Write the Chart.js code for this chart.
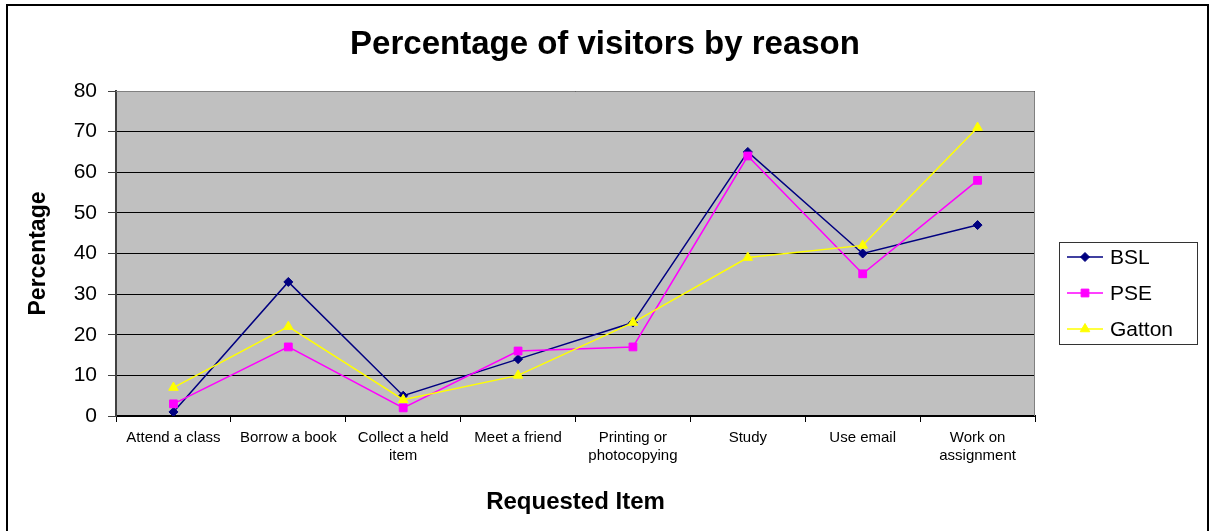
<!DOCTYPE html>
<html>
<head>
<meta charset="utf-8">
<title>Percentage of visitors by reason</title>
<script src="https://cdn.jsdelivr.net/npm/chart.js@4/dist/chart.umd.min.js"></script>
<style>
  html, body { margin: 0; padding: 0; background: #fff; }
  canvas { display: block; }
</style>
</head>
<body>
<canvas id="chart" width="1210" height="531"></canvas>
<script>
// Survey results: share of visitors (%) giving each reason, per campus library
const categories = [
  ["Attend a class"],
  ["Borrow a book"],
  ["Collect a held", "item"],
  ["Meet a friend"],
  ["Printing or", "photocopying"],
  ["Study"],
  ["Use email"],
  ["Work on", "assignment"]
];
const seriesNames = ["BSL", "PSE", "Gatton"];
const bslValues    = [1, 33, 5, 14, 23, 65, 40, 47];
const pseValues    = [3, 17, 2, 16, 17, 64, 35, 58];
const gattonValues = [7, 22, 4, 10, 23, 39, 42, 71];
const yTickValues  = [0, 10, 20, 30, 40, 50, 60, 70, 80];

const SANS = "'Liberation Sans', Arial, Helvetica, sans-serif";

// Page frame, grey plot background and plot border
const framePlugin = {
  id: 'frame',
  beforeDraw(chart) {
    const { ctx, chartArea: a } = chart;
    ctx.save();
    ctx.fillStyle = '#ffffff';
    ctx.fillRect(0, 0, chart.width, chart.height);
    ctx.fillStyle = '#C0C0C0';
    ctx.fillRect(a.left, a.top, a.right - a.left, a.bottom - a.top);
    ctx.strokeStyle = '#000000';
    ctx.lineWidth = 2;
    ctx.beginPath();
    ctx.moveTo(7, chart.height);
    ctx.lineTo(7, 5);
    ctx.lineTo(1208, 5);
    ctx.lineTo(1208, chart.height);
    ctx.stroke();
    ctx.restore();
  },
  beforeDatasetsDraw(chart) {
    const { ctx, chartArea: a } = chart;
    ctx.save();
    ctx.strokeStyle = '#808080';
    ctx.lineWidth = 1;
    ctx.beginPath();
    ctx.moveTo(a.left, a.top + 0.5);
    ctx.lineTo(a.right - 0.5, a.top + 0.5);
    ctx.lineTo(a.right - 0.5, a.bottom);
    ctx.stroke();
    ctx.restore();
  }
};

// Boxed legend on the right: a line sample with the series marker, then the name
const boxLegendPlugin = {
  id: 'boxLegend',
  afterDraw(chart) {
    const { ctx } = chart;
    const box = { x: 1059.5, y: 242.5, w: 138, h: 102 };
    ctx.save();
    ctx.strokeStyle = '#333333';
    ctx.lineWidth = 1;
    ctx.strokeRect(box.x, box.y, box.w, box.h);
    ctx.font = "21px " + SANS;
    ctx.textBaseline = 'middle';
    ctx.textAlign = 'left';
    chart.data.datasets.forEach((ds, i) => {
      const y = 257 + i * 36;
      ctx.strokeStyle = ds.borderColor;
      ctx.lineWidth = ds.borderWidth;
      ctx.beginPath();
      ctx.moveTo(1067, y);
      ctx.lineTo(1103, y);
      ctx.stroke();
      ctx.fillStyle = ds.pointBackgroundColor;
      ctx.strokeStyle = ds.pointBorderColor;
      ctx.lineWidth = 1;
      Chart.helpers.drawPoint(ctx, {
        pointStyle: ds.pointStyle,
        radius: ds.pointRadius,
        rotation: 0,
        borderWidth: 1
      }, 1085, y);
      ctx.fillStyle = '#000000';
      ctx.fillText(ds.label, 1110, y + 1);
    });
    ctx.restore();
  }
};

function series(label, values, color, style, radius, order) {
  return {
    label: label,
    data: values,
    yAxisID: 'y',
    borderColor: color,
    backgroundColor: color,
    borderWidth: 1.5,
    pointStyle: style,
    pointRadius: radius,
    pointHoverRadius: radius,
    pointBackgroundColor: color,
    pointBorderColor: color,
    pointBorderWidth: 1,
    tension: 0,
    fill: false,
    order: order
  };
}

new Chart(document.getElementById('chart'), {
  type: 'line',
  data: {
    labels: categories,
    datasets: [
      series(seriesNames[0], bslValues, '#000080', 'rectRot', 4.5, 3),
      series(seriesNames[1], pseValues, '#FF00FF', 'rect', 5.5, 2),
      series(seriesNames[2], gattonValues, '#FFFF00', 'triangle', 5.5, 1)
    ]
  },
  options: {
    responsive: false,
    animation: false,
    devicePixelRatio: 1,
    layout: { padding: 0 },
    plugins: {
      legend: { display: false },
      tooltip: { enabled: false },
      title: {
        display: true,
        text: 'Percentage of visitors by reason',
        color: '#000000',
        font: { family: SANS, size: 33, weight: 'bold', lineHeight: 1.2 },
        padding: { top: 25.5, bottom: 25.9 }
      }
    },
    scales: {
      x: {
        type: 'category',
        offset: true,
        grid: {
          offset: true,
          drawOnChartArea: false,
          drawTicks: true,
          tickLength: 6,
          color: '#000000',
          lineWidth: 1
        },
        border: { display: true, color: '#000000', width: 2 },
        ticks: {
          color: '#000000',
          font: { family: SANS, size: 15, lineHeight: 1.25 },
          padding: 6,
          maxRotation: 0,
          minRotation: 0,
          autoSkip: false
        },
        title: {
          display: true,
          text: 'Requested Item',
          color: '#000000',
          font: { family: SANS, size: 24, weight: 'bold', lineHeight: 1.2 },
          padding: { top: 0, bottom: 14.6 }
        },
        afterFit(scale) { scale.height = 115; }
      },
      y: {
        position: 'left',
        min: 0,
        max: 80,
        afterBuildTicks(scale) {
          scale.ticks = yTickValues.map(v => ({ value: v }));
        },
        grid: {
          color: '#000000',
          lineWidth: 1,
          drawTicks: true,
          tickLength: 8,
          tickColor: '#404040'
        },
        border: { display: true, color: '#404040', width: 2 },
        ticks: {
          color: '#000000',
          font: { family: SANS, size: 21 },
          padding: 11
        },
        title: {
          display: true,
          text: 'Percentage',
          color: '#000000',
          font: { family: SANS, size: 23, weight: 'bold', lineHeight: 1.2 },
          padding: { top: 25, bottom: 0 }
        },
        afterFit(scale) { scale.width = 116; }
      },
      // Blank right-hand band that holds the legend
      legendBand: {
        type: 'linear',
        position: 'right',
        display: true,
        grid: { display: false, drawTicks: false },
        border: { display: false },
        ticks: { display: false },
        afterFit(scale) { scale.width = 175; }
      }
    }
  },
  plugins: [framePlugin, boxLegendPlugin]
});
</script>
</body>
</html>
